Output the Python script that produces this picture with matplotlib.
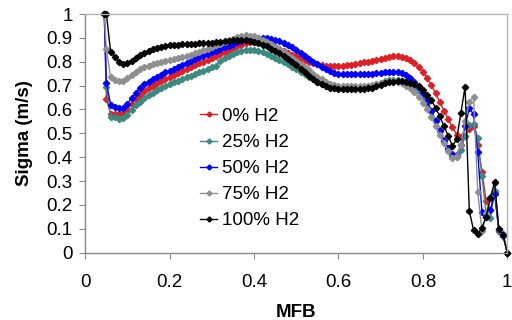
import matplotlib
matplotlib.use('Agg')
import matplotlib.pyplot as plt
import numpy as np
from matplotlib.ticker import FuncFormatter

plt.rcParams['font.family'] = ['Liberation Sans', 'DejaVu Sans']

# MFB grid: one extra start point, then 0.05 .. 1.00 in 0.01 steps
mfb = np.concatenate(([0.045], np.round(np.arange(0.05, 1.0001, 0.01), 2)))

h0 = [1.0,
      0.645, 0.582, 0.580, 0.580, 0.586, 0.603, 0.625, 0.645, 0.662, 0.676,
      0.688, 0.699, 0.709, 0.718, 0.727, 0.736, 0.745, 0.753, 0.761, 0.769,
      0.777, 0.785, 0.793, 0.800, 0.808, 0.816, 0.824, 0.832, 0.840, 0.848,
      0.856, 0.864, 0.871, 0.877, 0.881, 0.883, 0.882, 0.879, 0.874, 0.868,
      0.861, 0.853, 0.845, 0.837, 0.830, 0.823, 0.816, 0.808, 0.800, 0.794,
      0.789, 0.785, 0.782, 0.781, 0.781, 0.782, 0.783, 0.785, 0.787, 0.790,
      0.793, 0.797, 0.800, 0.804, 0.808, 0.812, 0.816, 0.820, 0.823, 0.824,
      0.822, 0.817, 0.808, 0.795, 0.778, 0.758, 0.732, 0.702, 0.668, 0.632,
      0.595, 0.560, 0.525, 0.495, 0.485, 0.490, 0.520, 0.532, 0.450, 0.340,
      0.215, 0.178, 0.255, 0.100, 0.076, 0.0]

h25 = [1.0,
       0.694, 0.570, 0.568, 0.562, 0.563, 0.578, 0.598, 0.617, 0.633, 0.647,
       0.659, 0.670, 0.680, 0.689, 0.698, 0.706, 0.714, 0.721, 0.728, 0.735,
       0.742, 0.749, 0.756, 0.763, 0.770, 0.777, 0.784, 0.805, 0.815,
       0.824, 0.832, 0.839, 0.845, 0.849, 0.850, 0.848, 0.845, 0.840, 0.833,
       0.825, 0.817, 0.808, 0.799, 0.790, 0.780, 0.770, 0.759, 0.748, 0.737,
       0.726, 0.716, 0.707, 0.700, 0.695, 0.692, 0.690, 0.689, 0.689, 0.690,
       0.691, 0.692, 0.694, 0.697, 0.700, 0.705, 0.712, 0.718, 0.722, 0.724,
       0.724, 0.721, 0.715, 0.706, 0.694, 0.677, 0.655, 0.627, 0.593, 0.555,
       0.513, 0.471, 0.435, 0.405, 0.403, 0.430, 0.490, 0.535, 0.540, 0.480,
       0.320, 0.160, 0.145, 0.260, 0.100, 0.080, 0.0]

h50 = [1.0,
       0.712, 0.620, 0.610, 0.605, 0.607, 0.625, 0.648, 0.668, 0.690, 0.705,
       0.717, 0.728, 0.737, 0.746, 0.755, 0.763, 0.771, 0.779, 0.787, 0.795,
       0.803, 0.811, 0.819, 0.826, 0.833, 0.840, 0.847, 0.854, 0.861, 0.868,
       0.875, 0.882, 0.888, 0.893, 0.897, 0.900, 0.901, 0.900, 0.898, 0.895,
       0.891, 0.886, 0.879, 0.871, 0.861, 0.850, 0.838, 0.825, 0.812, 0.800,
       0.789, 0.778, 0.768, 0.760, 0.754, 0.750, 0.748, 0.747, 0.747, 0.747,
       0.748, 0.748, 0.749, 0.750, 0.751, 0.753, 0.755, 0.757, 0.758, 0.757,
       0.752, 0.744, 0.732, 0.716, 0.696, 0.670, 0.635, 0.595, 0.552, 0.510,
       0.470, 0.440, 0.415, 0.410, 0.450, 0.530, 0.605, 0.580, 0.420, 0.170,
       0.150, 0.180, 0.245, 0.090, 0.070, 0.0]

h75 = [1.0,
       0.853, 0.737, 0.724, 0.718, 0.720, 0.732, 0.746, 0.758, 0.769, 0.777,
       0.784, 0.790, 0.795, 0.800, 0.804, 0.808, 0.812, 0.816, 0.820, 0.825,
       0.830, 0.836, 0.842, 0.848, 0.855, 0.862, 0.869, 0.876, 0.883, 0.890,
       0.897, 0.903, 0.908, 0.910, 0.909, 0.906, 0.900, 0.893, 0.884, 0.874,
       0.863, 0.852, 0.841, 0.829, 0.817, 0.805, 0.792, 0.778, 0.764, 0.750,
       0.737, 0.726, 0.716, 0.708, 0.703, 0.700, 0.698, 0.697, 0.697, 0.697,
       0.698, 0.699, 0.700, 0.703, 0.707, 0.712, 0.716, 0.718, 0.718, 0.715,
       0.709, 0.700, 0.688, 0.672, 0.652, 0.628, 0.600, 0.568, 0.532, 0.495,
       0.460, 0.425, 0.397, 0.405, 0.450, 0.550, 0.633, 0.652, 0.256, 0.090,
       0.165, 0.235, 0.290, 0.095, 0.075, 0.0]

h100 = [1.0,
        1.0, 0.842, 0.820, 0.800, 0.789, 0.793, 0.803, 0.815, 0.827, 0.837,
        0.845, 0.852, 0.858, 0.862, 0.866, 0.869, 0.871, 0.872, 0.873, 0.874,
        0.875, 0.876, 0.877, 0.878, 0.879, 0.880, 0.882, 0.884, 0.886, 0.889,
        0.891, 0.892, 0.892, 0.891, 0.888, 0.884, 0.879, 0.872, 0.864, 0.855,
        0.846, 0.836, 0.825, 0.813, 0.800, 0.786, 0.771, 0.756, 0.742, 0.728,
        0.716, 0.706, 0.698, 0.692, 0.688, 0.686, 0.685, 0.684, 0.684, 0.684,
        0.685, 0.687, 0.689, 0.692, 0.697, 0.703, 0.709, 0.714, 0.717, 0.719,
        0.719, 0.717, 0.713, 0.707, 0.697, 0.682, 0.662, 0.638, 0.608, 0.572,
        0.530, 0.490, 0.447, 0.475, 0.585, 0.696, 0.175, 0.095, 0.078, 0.105,
        0.150, 0.230, 0.295, 0.098, 0.074, 0.0]

labels = ['0% H2', '25% H2', '50% H2', '75% H2', '100% H2']
colors = ['#dd1f26', '#3a8a80', '#0000ff', '#8f8f8f', '#000000']
series = [h0, h25, h50, h75, h100]

fig = plt.figure(figsize=(5.12, 3.2), dpi=100)
ax = fig.add_axes([0.1666, 0.2103, 0.8242, 0.7459])

for y, c, lab in zip(series, colors, labels):
    ax.plot(mfb, y, color=c, lw=1.0, marker='D', ms=3.2, mec=c, mfc=c,
            label=lab, clip_on=False)

ax.set_xlim(0, 1)
ax.set_ylim(0, 1)
ax.set_xticks(np.arange(0, 1.01, 0.2))
ax.set_yticks(np.arange(0, 1.01, 0.1))
fmt = FuncFormatter(lambda v, p: '%g' % round(v, 2))
ax.xaxis.set_major_formatter(fmt)
ax.yaxis.set_major_formatter(fmt)
ax.tick_params(axis='both', labelsize=13.5, color='#888888', length=4,
               width=0.8, direction='out')
ax.tick_params(axis='x', pad=11)
ax.tick_params(axis='y', pad=5)

for s in ['left', 'bottom']:
    ax.spines[s].set_color('#888888')
for s in ['top', 'right']:
    ax.spines[s].set_color('#b4b4b4')
for s in ax.spines.values():
    s.set_linewidth(1.0)

ax.set_xlabel('MFB', fontsize=13.5, fontweight='bold')
ax.set_ylabel('Sigma (m/s)', fontsize=13.5, fontweight='bold')
ax.xaxis.set_label_coords(0.5, -0.215)
ax.yaxis.set_label_coords(-0.125, 0.5)

ax.legend(loc='upper left', bbox_to_anchor=(0.272, 0.607), frameon=False,
          fontsize=13.5, handlelength=0.9, handletextpad=0.25,
          labelspacing=0.48, borderpad=0, borderaxespad=0, markerscale=0.8)

fig.savefig('out.png', dpi=100)
